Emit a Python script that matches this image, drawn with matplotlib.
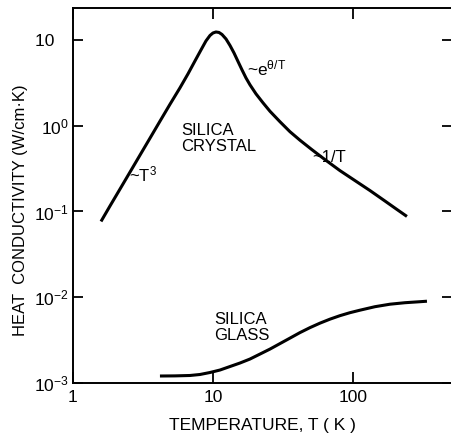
import matplotlib
matplotlib.use('Agg')
import matplotlib.pyplot as plt

plt.rcParams['font.family'] = ['Liberation Sans', 'DejaVu Sans']
plt.rcParams['mathtext.fontset'] = 'custom'
plt.rcParams['mathtext.rm'] = 'Liberation Sans'
plt.rcParams['mathtext.it'] = 'Liberation Sans'
plt.rcParams['mathtext.default'] = 'regular'

# silica crystal
crystal_T = [1.585, 1.838, 2.167, 2.554, 3.01, 3.548, 4.18, 4.93, 5.81, 6.63,
             7.44, 8.21, 8.91, 9.52, 10.0, 10.5, 11.04, 11.6, 12.39, 13.23,
             14.13, 15.09, 16.12, 17.21, 18.38, 20.28, 22.76, 25.54, 30.1, 35.48,
             41.8, 50.9, 63.1, 80.7, 103.3, 132.3, 169.3, 206.2, 243]
crystal_k = [0.0765, 0.1159, 0.1826, 0.2878, 0.4539, 0.7155, 1.128, 1.778, 2.766, 4.024,
             5.70, 7.65, 9.74, 11.28, 12.06, 12.39, 12.23, 11.59, 10.27, 8.63,
             7.06, 5.62, 4.48, 3.61, 3.0, 2.355, 1.851, 1.474, 1.113, 0.8515,
             0.6782, 0.5258, 0.4024, 0.2997, 0.2293, 0.1754, 0.1324, 0.1055, 0.0875]

# silica glass
glass_T = [4.18, 5.35, 6.85, 8.07, 9.52, 11.22, 13.23, 15.59, 18.38, 21.67,
           25.54, 30.1, 35.5, 41.8, 49.3, 58.1, 68.5, 80.7, 95.2, 112.2,
           143.6, 183.8, 235.2, 301, 337.8]
glass_k = [1.206e-3, 1.21e-3, 1.223e-3, 1.256e-3, 1.325e-3, 1.416e-3, 1.556e-3, 1.709e-3,
           1.902e-3, 2.174e-3, 2.485e-3, 2.879e-3, 3.337e-3, 3.866e-3, 4.42e-3, 4.984e-3,
           5.549e-3, 6.093e-3, 6.603e-3, 7.06e-3, 7.754e-3, 8.291e-3, 8.63e-3, 8.865e-3,
           8.985e-3]

x_ticks = [1, 10, 100]
x_labels = ['1', '10', '100']
y_ticks = [1e-3, 1e-2, 1e-1, 1, 10]
y_labels = ['10$^{-3}$', '10$^{-2}$', '10$^{-1}$', '10$^{0}$', '10   ']

fig = plt.figure(figsize=(4.52, 4.36), dpi=100)
ax = fig.add_axes([0.1615, 0.1216, 0.8385, 0.8601])

ax.plot(crystal_T, crystal_k, color='black', lw=2.2, solid_capstyle='butt',
        solid_joinstyle='round')
ax.plot(glass_T, glass_k, color='black', lw=2.2, solid_capstyle='butt',
        solid_joinstyle='round')

ax.set_xscale('log')
ax.set_yscale('log')
ax.set_xlim(1, 510)
ax.set_ylim(1e-3, 23.6)

ax.set_xticks(x_ticks)
ax.set_xticklabels(x_labels)
ax.set_yticks(y_ticks)
ax.set_yticklabels(y_labels)
ax.minorticks_off()

ax.spines['right'].set_visible(False)
for s in ['left', 'top', 'bottom']:
    ax.spines[s].set_linewidth(1.4)

ax.tick_params(axis='x', which='major', direction='in', length=8, width=1.3,
               top=True, labelsize=12.5, pad=5)
ax.tick_params(axis='y', which='major', direction='in', length=7, width=1.3,
               right=True, labelsize=12.5, pad=3)

ax.set_xlabel('TEMPERATURE, T ( K )', fontsize=12.5)
ax.xaxis.set_label_coords(0.5, -0.093)
ax.set_ylabel('HEAT  CONDUCTIVITY (W/cm·K)', fontsize=12)
ax.yaxis.set_label_coords(-0.119, 0.46)

ax.text(0.285, 0.651, 'SILICA\nCRYSTAL', transform=ax.transAxes, fontsize=12,
        ha='left', va='center', linespacing=1.1)
ax.text(0.372, 0.149, 'SILICA\nGLASS', transform=ax.transAxes, fontsize=12,
        ha='left', va='center', linespacing=1.1)
ax.text(0.148, 0.555, '~T$^3$', transform=ax.transAxes, fontsize=12,
        ha='left', va='center')
ax.text(0.458, 0.84, r'~e$^{\theta/T}$', transform=ax.transAxes, fontsize=12.5,
        ha='left', va='center')
ax.text(0.63, 0.6, '~1/T', transform=ax.transAxes, fontsize=12,
        ha='left', va='center')

fig.savefig('out.png', dpi=100)
